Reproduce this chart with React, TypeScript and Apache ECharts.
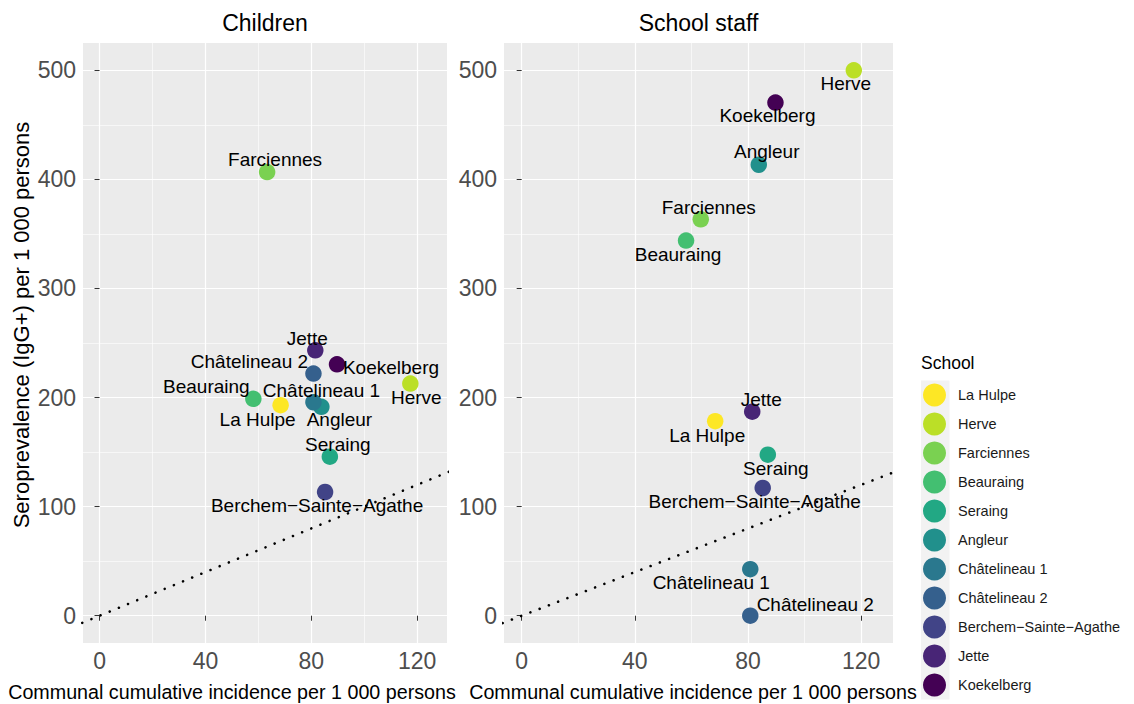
import React, { useEffect, useRef } from "react";
import * as echarts from "echarts";

const schools = [
  "La Hulpe",
  "Herve",
  "Farciennes",
  "Beauraing",
  "Seraing",
  "Angleur",
  "Châtelineau 1",
  "Châtelineau 2",
  "Berchem−Sainte−Agathe",
  "Jette",
  "Koekelberg",
];
const colors = [
  "#FDE725",
  "#BBDF27",
  "#7AD151",
  "#43BF71",
  "#22A884",
  "#21908C",
  "#2A788E",
  "#35608D",
  "#414487",
  "#482576",
  "#440154",
];
const incidence = [68.4, 117.4, 63.3, 58.1, 87.0, 83.8, 80.8, 80.8, 85.2, 81.5, 89.7];
const childrenSero = [193, 212.8, 406.7, 198.8, 145.8, 191.5, 195.7, 222, 113.4, 243.3, 230.5];
const staffSero = [178.3, 500, 363.4, 343.9, 147.6, 413.4, 42.7, 0, 117.1, 187, 470.4];

// label offsets (px) for the repelled labels
const childrenLabelOffset = [
  [-23, 14], [6, 14], [8, -13], [-47, -12], [8, -12], [18, 13], [8, -12], [-64, -12], [-8, 13], [-8, -12], [54, 3],
];
const staffLabelOffset = [
  [-8, 14], [-8, 13], [8, -12], [-8, 14], [8, 14], [8, -13], [-39, 13], [65, -11], [-8, 14], [9, -12], [-8, 13],
];

const xMajor = [0, 40, 80, 120];
const xMinor = [20, 60, 100];
const yMajor = [0, 100, 200, 300, 400, 500];
const yMinor = [50, 150, 250, 350, 450];
const xLimits = [-6.25, 131.25];
const yLimits = [-25, 525];
const identityLine = [
  [-10, -10],
  [140, 140],
];

const FONT = "Liberation Sans, Arial, sans-serif";

export default function App() {
  const ref = useRef<HTMLDivElement>(null);
  useEffect(() => {
    if (!ref.current) return;
    const chart = echarts.init(ref.current, null, { renderer: "svg" });

    const grids = [
      { left: 83, top: 43, width: 364, height: 600 },
      { left: 504, top: 43, width: 389, height: 600 },
    ];

    const xAxes = grids.map((_, i) => ({
      type: "value",
      gridIndex: i,
      min: xLimits[0],
      max: xLimits[1],
      axisLine: { show: false },
      splitLine: { show: false },
      axisTick: { show: true, customValues: xMajor, length: 5, lineStyle: { color: "#333333", width: 1 } },
      axisLabel: { customValues: xMajor, fontSize: 23, color: "#4D4D4D", fontFamily: FONT, margin: 6 },
    }));
    const yAxes = grids.map((_, i) => ({
      type: "value",
      gridIndex: i,
      min: yLimits[0],
      max: yLimits[1],
      axisLine: { show: false },
      splitLine: { show: false },
      axisTick: { show: true, customValues: yMajor, length: 5, lineStyle: { color: "#333333", width: 1 } },
      axisLabel: { customValues: yMajor, fontSize: 23, color: "#4D4D4D", fontFamily: FONT, margin: 7 },
    }));

    const series: any[] = [];
    grids.forEach((_, g) => {
      const ml = [
        ...xMinor.map((v) => ({ xAxis: v, lineStyle: { color: "#FFFFFF", width: 0.6, type: "solid" } })),
        ...yMinor.map((v) => ({ yAxis: v, lineStyle: { color: "#FFFFFF", width: 0.6, type: "solid" } })),
        ...xMajor.map((v) => ({ xAxis: v, lineStyle: { color: "#FFFFFF", width: 1.2, type: "solid" } })),
        ...yMajor.map((v) => ({ yAxis: v, lineStyle: { color: "#FFFFFF", width: 1.2, type: "solid" } })),
      ];
      series.push({
        type: "line",
        name: "grid" + g,
        xAxisIndex: g,
        yAxisIndex: g,
        data: [],
        z: 0,
        silent: true,
        markLine: { z: 0, silent: true, symbol: ["none", "none"], label: { show: false }, data: ml, animation: false },
      });
      series.push({
        type: "line",
        name: "identity" + g,
        xAxisIndex: g,
        yAxisIndex: g,
        data: identityLine,
        showSymbol: false,
        symbol: "none",
        clip: true,
        z: 1,
        silent: true,
        lineStyle: { color: "#000000", width: 2.6, type: [0.01, 9.9], cap: "round" },
      });
    });

    const panels = [
      { sero: childrenSero, off: childrenLabelOffset },
      { sero: staffSero, off: staffLabelOffset },
    ];
    panels.forEach((p, g) => {
      schools.forEach((s, i) => {
        series.push({
          type: "scatter",
          name: s,
          xAxisIndex: g,
          yAxisIndex: g,
          z: 3,
          symbol: "circle",
          symbolSize: 16.5,
          itemStyle: { color: colors[i], opacity: 1 },
          data: [[incidence[i], p.sero[i]]],
          label: {
            show: true,
            formatter: s,
            position: ["50%", "50%"],
            offset: p.off[i],
            color: "#000000",
            fontSize: 19,
            fontFamily: FONT,
            align: "center",
            verticalAlign: "middle",
          },
        });
      });
    });

    chart.setOption({
      animation: false,
      textStyle: { fontFamily: FONT },
      grid: grids.map((g) => ({ ...g, show: true, backgroundColor: "#EBEBEB", borderWidth: 0, containLabel: false })),
      xAxis: xAxes,
      yAxis: yAxes,
      legend: {
        data: schools,
        orient: "vertical",
        left: 923,
        top: 383.5,
        height: 330,
        padding: 0,
        icon: "circle",
        itemWidth: 23,
        itemHeight: 23,
        itemGap: 6,
        selectedMode: false,
        textStyle: { fontSize: 14.5, color: "#1A1A1A", fontFamily: FONT, padding: [0, 0, 0, 7] },
      },
      graphic: [
        { type: "rect", shape: { x: 921, y: 380.5, width: 28.5, height: 319 }, style: { fill: "#F2F2F2" }, z: -1 },
        { type: "text", x: 921, y: 363.3, style: { text: "School", fontSize: 17.5, fill: "#000000", fontFamily: FONT, textAlign: "left", textVerticalAlign: "middle" } },
        { type: "text", x: 265, y: 23, style: { text: "Children", fontSize: 23, fill: "#000000", fontFamily: FONT, textAlign: "center", textVerticalAlign: "middle" } },
        { type: "text", x: 698.5, y: 23, style: { text: "School staff", fontSize: 23, fill: "#000000", fontFamily: FONT, textAlign: "center", textVerticalAlign: "middle" } },
        { type: "text", x: 232, y: 691.7, style: { text: "Communal cumulative incidence per 1 000 persons", fontSize: 19.7, fill: "#000000", fontFamily: FONT, textAlign: "center", textVerticalAlign: "middle" } },
        { type: "text", x: 693, y: 691.7, style: { text: "Communal cumulative incidence per 1 000 persons", fontSize: 19.7, fill: "#000000", fontFamily: FONT, textAlign: "center", textVerticalAlign: "middle" } },
        { type: "text", x: 21.7, y: 325, rotation: Math.PI / 2, style: { text: "Seroprevalence (IgG+) per 1 000 persons", fontSize: 22, fill: "#000000", fontFamily: FONT, textAlign: "center", textVerticalAlign: "middle" } },
      ],
      series,
    });
    return () => chart.dispose();
  }, []);
  return <div ref={ref} style={{ position: "fixed", left: 0, top: 0, width: 1134, height: 704, background: "#FFFFFF" }} />;
}
